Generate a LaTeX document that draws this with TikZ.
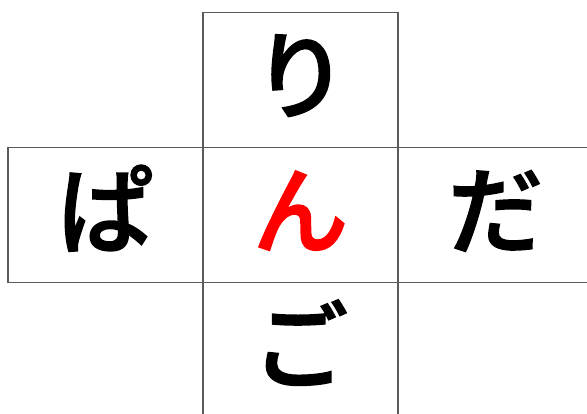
\documentclass[tikz,border=0pt]{standalone}
\usepackage{fontspec}
\newfontfamily\cjk{Noto Sans CJK JP Medium}[FakeBold=1.6]
\usetikzlibrary{positioning}
\definecolor{cLine}{RGB}{90,90,90}
\definecolor{cRed}{RGB}{255,0,0}
\tikzset{
  cell/.style={rectangle, draw=cLine, line width=1pt, minimum width=4.875cm,
               minimum height=3.375cm, outer sep=0pt, inner sep=0pt,
               text height=2.1cm, text depth=0.54cm,
               font=\cjk\fontsize{68}{68}\selectfont},
}
\begin{document}
\begin{tikzpicture}[x=0.025cm, y=-0.025cm]
  \useasboundingbox (0,0) rectangle (587,414);
  \clip (0,0) rectangle (587,414);

  % ---- middle row ----
  \node[cell, text=cRed] (mid) at (300.5,215) {ん};
  \node[cell, left=0pt of mid] (lft) {ぱ};
  \node[cell, right=0pt of mid] (rgt) {だ};

  % ---- column ----
  \node[cell, above=0pt of mid] (top) {り};
  \node[cell, below=0pt of mid] (bot) {ご};

\end{tikzpicture}
\end{document}
